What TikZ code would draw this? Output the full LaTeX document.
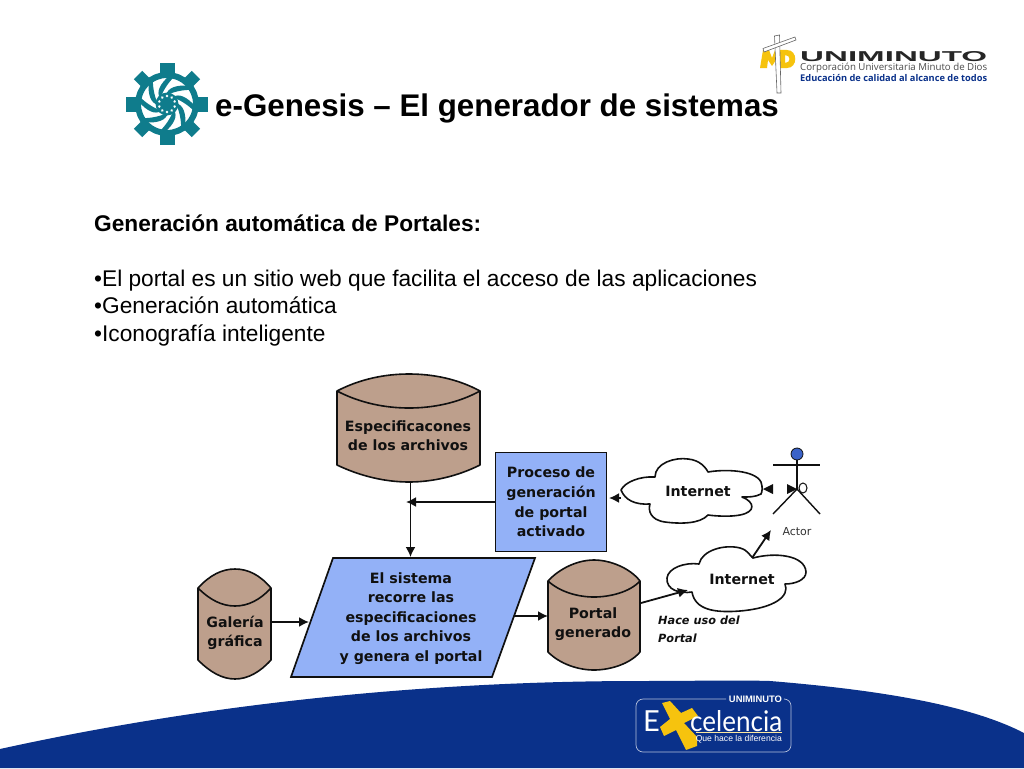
\documentclass[tikz,border=0pt]{standalone}
\usepackage{fontspec}
\setmainfont{Liberation Sans}
\newfontfamily\djfont{DejaVu Sans}
\newfontfamily\latofont{Lato}
\newfontfamily\opfont{Open Sans}
\usetikzlibrary{arrows.meta}
\definecolor{tanc}{HTML}{BD9F8C}
\definecolor{lblue}{HTML}{93B1F7}
\definecolor{navy}{HTML}{0A318A}
\definecolor{tealc}{HTML}{0F7C8C}
\definecolor{ink}{HTML}{101010}
\definecolor{gold}{HTML}{F6C30E}
\definecolor{headblue}{HTML}{3A62C8}
\tikzset{
  x=1pt,y=-1pt,
  box/.style={draw=ink,line width=1.7pt,fill=lblue,line join=miter},
  can/.style={draw=ink,line width=1.6pt,fill=tanc,line join=round},
  lbl/.style={font=\djfont\bfseries\fontsize{14.2}{19.6}\selectfont,align=center,text=ink,inner sep=0pt},
  conn/.style={draw=ink,line width=1.8pt,-{Latex[length=10pt,width=10pt]}},
  cloud/.style={draw=ink,line width=1.6pt,fill=white,line join=round},
  fig/.style={draw=ink,line width=1.4pt},
  title/.style={font=\bfseries\fontsize{31.3}{34}\selectfont,inner sep=0pt,anchor=base west,text=black},
  body/.style={font=\fontsize{22.7}{26}\selectfont,inner sep=0pt,anchor=base west,text=black},
  crossbar/.style={draw=black!60,line width=.6pt,fill=white},
}
\begin{document}
\begin{tikzpicture}
\useasboundingbox (0,0) rectangle (1024,768);
\fill[white] (0,0) rectangle (1024,768);
% band
\fill[navy] (0,749) .. controls (200,705) and (420,681) .. (640,681) .. controls (690,681) and (740,680) .. (770,681) .. controls (880,690) and (970,705) .. (1024,733) -- (1024,768) -- (0,768) -- cycle;
% gear
\begin{scope}[shift={(167,104)}]
  \foreach \a in {0,90,180,270}{
    \fill[tealc,rotate=\a] (-7.5,-41) rectangle (7.5,-28);
  }
  \foreach \a in {45,135,225,315}{
    \fill[tealc,rotate=\a] (-6,-41) rectangle (6,-28);
  }
  \draw[tealc,line width=6pt,fill=white] (0,0) circle (29);
  \foreach \a in {0,45,...,315}{
    \fill[tealc,rotate=\a] (2,-28) .. controls (-7,-20) and (-11,-12) .. (-7,-6) .. controls (-4,-12) and (-1,-19) .. (7,-27) -- cycle;
  }
  \fill[tealc] (0,0) circle (11.5);
  \foreach \a in {0,36,...,324}{
    \fill[white,rotate=\a] (0,-8) circle (1.4);
  }
\end{scope}
% Uniminuto logo: MD mark
\fill[gold] (760,68) -- (763,50) -- (769,50) -- (772,58) -- (775,50) -- (781,50) -- (781,68) -- (776,68) -- (776,60) -- (772,66) -- (768,60) -- (767,68) -- cycle;
\fill[gold,even odd rule] (781,50) -- (787,50) .. controls (798,50) and (798,68) .. (787,68) -- (781,68) -- cycle (785,55) -- (785,63) .. controls (791,63) and (791,55) .. (785,55) -- cycle;
\draw[crossbar] (774.5,36) -- (779.5,35) -- (781,93) -- (777,93) -- cycle;
\draw[crossbar] (763,48.5) -- (795,37) -- (796,40) -- (764,52) -- cycle;
\node (uni) [inner sep=0pt,anchor=west,font=\bfseries,text=black!85] at (800,57) {\resizebox{187pt}{10pt}{UNIMINUTO}};
\node (corp) [inner sep=0pt,anchor=west,text=black!70] at (800,67.5) {\resizebox{187pt}{!}{\opfont\fontsize{10}{10}\selectfont Corporación Universitaria Minuto de Dios}};
\node (edu) [inner sep=0pt,anchor=west,text=navy] at (800,78) {\resizebox{187pt}{!}{\opfont\bfseries\fontsize{10}{10}\selectfont Educación de calidad al alcance de todos}};
% texts
\node (t) [title] at (215,116) {e-Genesis – El generador de sistemas};
\node (b1) [body,font=\bfseries\fontsize{19.6}{24}\selectfont] at (94,231) {\resizebox{387pt}{!}{Generación automática de Portales:}};
\node (b2) [body] at (94,286) {•El portal es un sitio web que facilita el acceso de las aplicaciones};
\node (b3) [body] at (94,313) {•Generación automática};
\node (b4) [body] at (94,341) {•Iconografía inteligente};
% cylinder Especificaciones
\draw[can] (337,391) .. controls (360,379) and (385,374) .. (409,374) .. controls (433,374) and (458,379) .. (480,391) -- (480,465) .. controls (458,476) and (433,482) .. (409,482) .. controls (385,482) and (360,476) .. (337,465) -- cycle;
\draw[can,fill=none] (337,391) .. controls (360,403) and (385,408) .. (409,408) .. controls (433,408) and (458,403) .. (480,391);
\node (esp) [lbl] at (408,435.5) {Especificacones\\de los archivos};
\coordinate (espb) at (410.5,482);
% box proceso
\node (proc) [box,lbl,minimum width=111pt,minimum height=99pt] at (551,502) {Proceso de\\generación\\de portal\\activado};
% parallelogram
\draw[box] (333,558) -- (535,558) -- (492,677) -- (291,677) -- cycle;
\node (sis) [lbl] at (411,618.5) {El sistema\\recorre las\\especificaciones\\de los archivos\\y genera el portal};
\coordinate (sist) at (410.5,557);
% galeria
\draw[can] (198,588) .. controls (210,575) and (222,569) .. (235,569) .. controls (248,569) and (260,575) .. (271,588) -- (271,660) .. controls (260,672) and (248,679) .. (235,679) .. controls (222,679) and (210,672) .. (198,660) -- cycle;
\draw[can,fill=none] (198,588) .. controls (210,600) and (222,606) .. (235,606) .. controls (248,606) and (260,600) .. (271,588);
\node (gal) [lbl] at (235,633) {Galería\\gráfica};
\coordinate (galr) at (272,622);
\coordinate (sisl) at (309,622);
% portal
\draw[can] (548,581) .. controls (560,568) and (578,560) .. (594,560) .. controls (610,560) and (630,568) .. (640,581) -- (640,652) .. controls (630,664) and (610,670) .. (594,670) .. controls (578,670) and (560,664) .. (548,652) -- cycle;
\draw[can,fill=none] (548,581) .. controls (560,592) and (578,597) .. (594,597) .. controls (610,597) and (630,592) .. (640,581);
\node (por) [lbl] at (593,624) {Portal\\generado};
\coordinate (sisr) at (514,616);
\coordinate (porl) at (548,616);
% clouds
\draw[cloud] (621,490) .. controls (625,482) and (640,476) .. (655,477) .. controls (655,463) and (675,457) .. (688,459) .. controls (700,460) and (706,468) .. (708,472) .. controls (725,469) and (755,470) .. (761,482) .. controls (763,488) and (762,492) .. (761,494) .. controls (755,497) and (750,497) .. (742,497) .. controls (755,502) and (756,512) .. (740,515) .. controls (730,517) and (715,516) .. (708,515) .. controls (700,524) and (680,524) .. (665,522) .. controls (650,520) and (648,510) .. (650,504) .. controls (635,505) and (625,500) .. (621,490) -- cycle;
\node (in1) [lbl] at (698,491) {Internet};
\draw[cloud] (667,578) .. controls (668,568) and (685,562) .. (699,564) .. controls (702,550) and (725,544) .. (740,548) .. controls (748,550) and (750,556) .. (753,558) .. controls (775,552) and (805,555) .. (806,572) .. controls (806,580) and (795,584) .. (785,584) .. controls (790,596) and (775,608) .. (740,611) .. controls (715,613) and (695,610) .. (692,592) .. controls (680,594) and (666,590) .. (667,578) -- cycle;
\node (in2) [lbl] at (742,579) {Internet};
\node (hace) [inner sep=0pt,anchor=north west,align=left,font=\djfont\bfseries\itshape\fontsize{11.3}{17.5}\selectfont,text=ink] at (658,616) {Hace uso del\\Portal};
% actor
\fill[headblue] (797,454) circle (6);
\draw[ink,line width=.8pt] (797,454) circle (6);
\draw[fig] (797,460) -- (797,489);
\draw[fig] (773,465) -- (820,465);
\draw[fig] (773,514) -- (797,489) -- (820,514);
\draw[ink,line width=1pt,fill=white] (803,488) ellipse (4 and 5);
\node (act) [inner sep=0pt,font=\djfont\fontsize{11}{12}\selectfont,text=black!80] at (797,532) {Actor};
\coordinate (actfoot) at (771,530);
\coordinate (in2top) at (752,558);
\coordinate (in1l) at (621,498);
\coordinate (procr) at (609,498);
\coordinate (in2ll) at (688,590);
\coordinate (porr) at (641,603);
\coordinate (procl) at (495,502);
\coordinate (jointa) at (410.5,502);
\coordinate (jointb) at (406,502);
% connectors
\draw[conn,-] (espb) -- (jointa);
\draw[conn] (jointa) -- (sist);
\draw[conn] (procl) -- (jointb);
\draw[conn] (in1l) -- (procr);
\draw[conn] (galr) -- (sisl);
\draw[conn] (sisr) -- (porl);
\draw[conn] (porr) -- (in2ll);
\draw[conn] (in2top) -- (actfoot);
\fill[ink] (763,489) -- (773,484) -- (773,494) -- cycle;
\fill[ink] (797,489) -- (787,484) -- (787,494) -- cycle;
% Excelencia logo
\draw[white!70!navy,line width=.7pt,rounded corners=7pt] (726,699) -- (636,699) -- (636,752) -- (791,752) -- (791,699) -- (785,699);
\node (unilogo) [inner sep=0pt,font=\bfseries\fontsize{9.4}{10}\selectfont,text=white] at (755.5,699.5) {UNIMINUTO};
\node (eL) [inner sep=0pt,anchor=base west,font=\latofont\fontsize{29}{29}\selectfont,text=white] at (643,731) {E};
\fill[gold] (662,703) -- (670,701) -- (681,713) -- (692,708) -- (698,716) -- (684,723) -- (697,737) -- (697,746) -- (686,750) -- (676,730) -- (664,736) -- (660,727) -- (670,719) -- cycle;
\node (cel) [inner sep=0pt,anchor=base west,text=white] at (690,731) {\resizebox{92pt}{21pt}{\latofont celencia}};
\draw[white!60!gold,line width=.8pt] (696,732.5) -- (782,732.5);
\node (que) [inner sep=0pt,anchor=base east,font=\fontsize{8.6}{10}\selectfont,text=white] at (782,741) {Que hace la diferencia};
\end{tikzpicture}
\end{document}
